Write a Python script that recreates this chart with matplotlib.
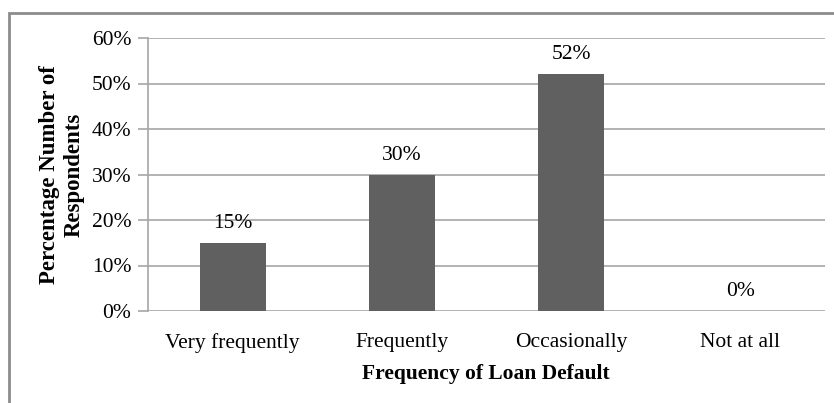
import matplotlib
matplotlib.use("Agg")
import matplotlib.pyplot as plt
from matplotlib.patches import Rectangle
from matplotlib.ticker import FuncFormatter

categories = ["Very frequently", "Frequently", "Occasionally", "Not at all"]
percentages = [15, 30, 52, 0]
y_ticks = [0, 10, 20, 30, 40, 50, 60]

plt.rcParams["font.family"] = ["Liberation Serif", "DejaVu Serif"]

W, H = 834, 403
fig = plt.figure(figsize=(W / 100, H / 100), dpi=100)
ax = fig.add_axes([148 / W, 1 - 311 / H, (825 - 148) / W, (311 - 38) / H])

# chart frame, open to the right and bottom
fig.patches.append(Rectangle((9 / W, -0.1), 1.2, 1 - 13 / H + 0.1, transform=fig.transFigure,
                             fill=False, edgecolor="#8c8c8c", linewidth=2))

x = range(len(categories))
ax.bar(x, percentages, width=0.39, color="#606060", zorder=3)
for xi, v in zip(x, percentages):
  ax.annotate(f"{v}%", (xi, v), xytext=(0, 14), textcoords="offset points",
              ha="center", va="center", fontsize=15.5)

ax.set_xlim(-0.5, len(categories) - 0.5)
ax.set_ylim(0, 60)
ax.set_yticks(y_ticks)
ax.yaxis.set_major_formatter(FuncFormatter(lambda v, p: f"{v:.0f}%"))
ax.set_xticks(list(x))
ax.set_xticklabels(categories)
ax.grid(axis="y", color="#a6a6a6", linewidth=1.2, zorder=0)

for s in ["top", "right", "bottom"]:
  ax.spines[s].set_visible(False)
ax.spines["left"].set_color("#a6a6a6")
ax.spines["left"].set_linewidth(1.2)
ax.tick_params(axis="y", length=7, color="#a6a6a6", width=1.2, labelsize=15.5, pad=5)
ax.tick_params(axis="x", length=0, labelsize=15.5, pad=16)

fig.text(486 / W, 1 - 374 / H, "Frequency of Loan Default", fontsize=15.5, fontweight="bold",
         ha="center", va="center")
fig.text(62 / W, 1 - 175 / H, "Percentage Number of\nRespondents", fontsize=16.5,
         fontweight="bold", rotation=90, ha="center", va="center",
         multialignment="center", linespacing=1.25)

fig.savefig("out.png", dpi=100, facecolor="white")
